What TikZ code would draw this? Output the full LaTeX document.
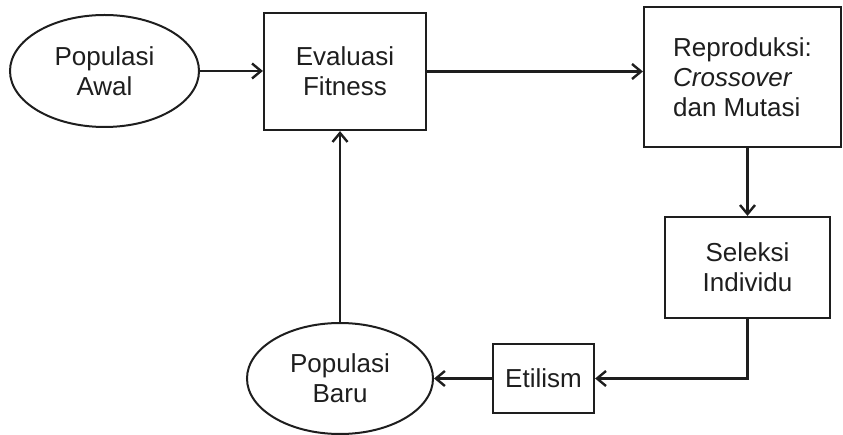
\documentclass[tikz,border=0pt]{standalone}
\usepackage{fontspec}
\setmainfont{Liberation Sans}
\usetikzlibrary{shapes.geometric,arrows.meta}
\definecolor{ink}{HTML}{1E1E1E}
\begin{document}
\begin{tikzpicture}[x=1pt,y=-1pt,
  every node/.style={font=\fontsize{26}{30}\selectfont, text=ink, inner sep=0pt},
  oval/.style={ellipse, draw=ink, line width=2pt, align=center},
  box/.style={rectangle, draw=ink, line width=2.2pt, align=center},
  flow/.style={draw=ink, line width=2.6pt, -{Straight Barb[length=9pt,width=15pt,line width=2.4pt]}}]
  \useasboundingbox (0,0) rectangle (843,435);

  % process blocks
  \node[oval, minimum width=189pt, minimum height=112pt] (awal) at (104.5,71) {Populasi\\Awal};
  \node[box, minimum width=162pt, minimum height=117pt] (eval) at (345,71.5) {Evaluasi\\Fitness};
  \node[box, minimum width=197pt, minimum height=140pt, align=left] (repro) at (742.5,77) {Reproduksi:\\\textit{Crossover}\\dan Mutasi};
  \node[box, minimum width=165pt, minimum height=101pt] (seleksi) at (747.5,267.5) {Seleksi\\Individu};
  \node[box, minimum width=101pt, minimum height=69pt] (etilism) at (543.5,378.5) {Etilism};
  \node[oval, minimum width=186pt, minimum height=111pt] (baru) at (340,378.5) {Populasi\\Baru};

  % connectors
  \draw[flow] (awal.east) -- (awal.east -| eval.west);
  \draw[flow] (eval.east) -- (eval.east -| repro.west);
  \draw[flow] (seleksi.north |- repro.south) -- (seleksi.north);
  \draw[flow] (seleksi.south) |- (etilism.east);
  \draw[flow] (etilism.west) -- (baru.east);
  \draw[flow] (baru.north) -- (baru.north |- eval.south);
\end{tikzpicture}
\end{document}
